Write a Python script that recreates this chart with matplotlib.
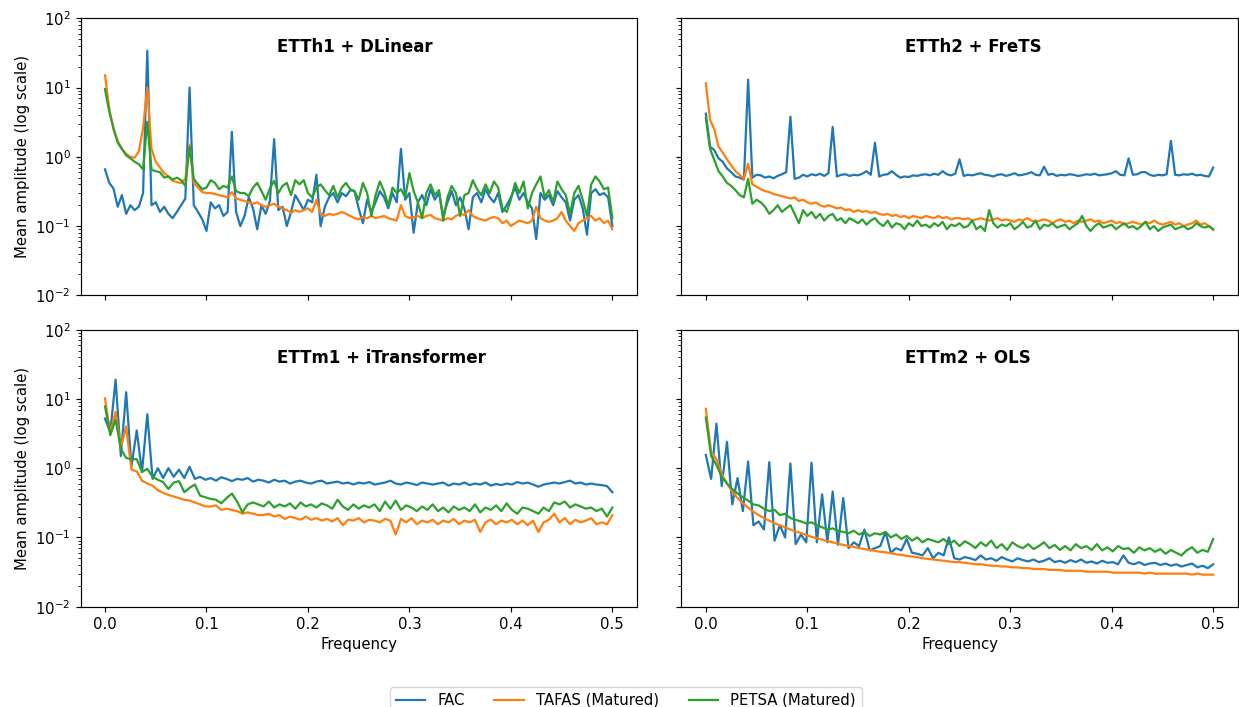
import numpy as np
import matplotlib
matplotlib.use("Agg")
import matplotlib.pyplot as plt

plt.rcParams["font.size"] = 10.7
plt.rcParams["lines.linewidth"] = 1.6
plt.rcParams["axes.linewidth"] = 0.85
plt.rcParams["xtick.major.width"] = 0.85
plt.rcParams["ytick.major.width"] = 0.85
plt.rcParams["xtick.major.size"] = 3.7
plt.rcParams["ytick.major.size"] = 3.7

# frequency bins (hourly sets: step 1/240, 15-min sets: step 1/192)
freq_h = np.arange(121) / 240
freq_m = np.arange(97) / 192

# ETTh1 + DLinear
etth1_fac = [
    0.66, 0.42, 0.35, 0.19, 0.28, 0.15, 0.20, 0.17, 0.19, 0.30,
    34.0, 0.20, 0.22, 0.16, 0.19, 0.15, 0.13, 0.16, 0.20, 0.25,
    10.0, 0.20, 0.16, 0.125, 0.085, 0.22, 0.18, 0.20, 0.14, 0.16,
    2.3, 0.16, 0.10, 0.14, 0.26, 0.18, 0.09, 0.20, 0.15, 0.23,
    1.8, 0.17, 0.19, 0.10, 0.16, 0.28, 0.22, 0.17, 0.24, 0.22,
    0.55, 0.10, 0.19, 0.26, 0.30, 0.22, 0.30, 0.27, 0.33, 0.32,
    0.18, 0.11, 0.24, 0.16, 0.22, 0.32, 0.26, 0.18, 0.30, 0.22,
    1.3, 0.24, 0.30, 0.08, 0.22, 0.28, 0.20, 0.34, 0.24, 0.30,
    0.14, 0.22, 0.32, 0.20, 0.26, 0.18, 0.09, 0.26, 0.30, 0.22,
    0.34, 0.26, 0.22, 0.30, 0.16, 0.20, 0.26, 0.36, 0.24, 0.30,
    0.22, 0.18, 0.065, 0.30, 0.24, 0.28, 0.20, 0.32, 0.26, 0.22,
    0.12, 0.24, 0.28, 0.18, 0.075, 0.30, 0.34, 0.28, 0.30, 0.26,
    0.10,
]
etth1_tafas = [
    15.0, 5.0, 2.5, 1.7, 1.3, 1.1, 1.0, 0.97, 1.2, 2.6,
    10.0, 1.3, 0.85, 0.70, 0.58, 0.52, 0.45, 0.43, 0.42, 0.48,
    1.5, 0.42, 0.36, 0.31, 0.30, 0.30, 0.29, 0.28, 0.27, 0.26,
    0.31, 0.25, 0.24, 0.23, 0.22, 0.21, 0.22, 0.20, 0.19, 0.20,
    0.21, 0.19, 0.18, 0.17, 0.155, 0.17, 0.16, 0.17, 0.18, 0.16,
    0.24, 0.15, 0.14, 0.15, 0.145, 0.15, 0.16, 0.15, 0.14, 0.13,
    0.125, 0.135, 0.13, 0.14, 0.13, 0.135, 0.14, 0.13, 0.125, 0.12,
    0.20, 0.14, 0.13, 0.135, 0.14, 0.13, 0.14, 0.145, 0.13, 0.125,
    0.12, 0.13, 0.125, 0.14, 0.15, 0.145, 0.17, 0.14, 0.13, 0.125,
    0.12, 0.13, 0.135, 0.13, 0.11, 0.12, 0.10, 0.11, 0.12, 0.115,
    0.11, 0.12, 0.19, 0.13, 0.12, 0.115, 0.12, 0.13, 0.16, 0.12,
    0.10, 0.085, 0.11, 0.12, 0.13, 0.14, 0.12, 0.13, 0.11, 0.12,
    0.09,
]
etth1_petsa = [
    9.5, 4.5, 2.6, 1.6, 1.3, 1.05, 0.95, 0.85, 0.78, 0.66,
    3.2, 0.65, 0.62, 0.60, 0.50, 0.52, 0.47, 0.50, 0.46, 0.38,
    1.4, 0.48, 0.40, 0.34, 0.36, 0.46, 0.42, 0.34, 0.38, 0.36,
    0.52, 0.32, 0.30, 0.30, 0.27, 0.36, 0.42, 0.32, 0.24, 0.35,
    0.45, 0.30, 0.38, 0.42, 0.28, 0.46, 0.40, 0.46, 0.30, 0.26,
    0.36, 0.40, 0.33, 0.28, 0.38, 0.26, 0.36, 0.42, 0.34, 0.32,
    0.24, 0.42, 0.30, 0.14, 0.28, 0.44, 0.32, 0.20, 0.36, 0.30,
    0.34, 0.26, 0.58, 0.32, 0.22, 0.13, 0.30, 0.40, 0.28, 0.33,
    0.12, 0.26, 0.38, 0.30, 0.14, 0.28, 0.30, 0.46, 0.34, 0.28,
    0.40, 0.30, 0.44, 0.36, 0.18, 0.16, 0.24, 0.42, 0.30, 0.44,
    0.18, 0.30, 0.40, 0.52, 0.26, 0.33, 0.22, 0.44, 0.34, 0.28,
    0.15, 0.30, 0.38, 0.24, 0.14, 0.40, 0.52, 0.44, 0.34, 0.36,
    0.13,
]

# ETTh2 + FreTS
etth2_fac = [
    4.2, 1.4, 1.25, 0.95, 0.85, 0.68, 0.60, 0.52, 0.50, 0.47,
    13.0, 0.50, 0.55, 0.54, 0.50, 0.52, 0.49, 0.53, 0.56, 0.60,
    3.8, 0.48, 0.50, 0.55, 0.52, 0.56, 0.54, 0.57, 0.53, 0.58,
    2.7, 0.52, 0.55, 0.56, 0.53, 0.55, 0.54, 0.57, 0.62, 0.55,
    1.6, 0.52, 0.55, 0.56, 0.62, 0.55, 0.50, 0.52, 0.51, 0.54,
    0.53, 0.55, 0.56, 0.54, 0.57, 0.55, 0.62, 0.56, 0.54, 0.57,
    0.92, 0.53, 0.55, 0.54, 0.56, 0.58, 0.55, 0.54, 0.52, 0.55,
    0.56, 0.53, 0.55, 0.58, 0.54, 0.55, 0.57, 0.60, 0.55, 0.54,
    0.72, 0.55, 0.57, 0.53, 0.55, 0.54, 0.56, 0.55, 0.53, 0.54,
    0.56, 0.55, 0.57, 0.54, 0.55, 0.56, 0.58, 0.62, 0.55, 0.54,
    0.95, 0.55, 0.56, 0.60, 0.60, 0.55, 0.53, 0.55, 0.54, 0.56,
    1.7, 0.55, 0.54, 0.56, 0.55, 0.57, 0.54, 0.55, 0.53, 0.52,
    0.70,
]
etth2_tafas = [
    11.5, 3.4, 2.5, 1.4, 1.15, 0.92, 0.75, 0.62, 0.55, 0.48,
    0.80, 0.40, 0.37, 0.34, 0.32, 0.31, 0.29, 0.28, 0.27, 0.26,
    0.25, 0.26, 0.23, 0.24, 0.22, 0.21, 0.22, 0.20, 0.19, 0.20,
    0.19, 0.18, 0.185, 0.17, 0.175, 0.16, 0.17, 0.16, 0.165, 0.155,
    0.16, 0.15, 0.145, 0.15, 0.14, 0.145, 0.135, 0.14, 0.13, 0.14,
    0.135, 0.13, 0.14, 0.135, 0.13, 0.14, 0.13, 0.135, 0.125, 0.13,
    0.13, 0.125, 0.13, 0.12, 0.125, 0.13, 0.125, 0.12, 0.125, 0.13,
    0.12, 0.125, 0.12, 0.115, 0.125, 0.12, 0.13, 0.12, 0.115, 0.12,
    0.125, 0.12, 0.11, 0.12, 0.125, 0.115, 0.12, 0.11, 0.12, 0.115,
    0.12, 0.125, 0.115, 0.12, 0.11, 0.115, 0.12, 0.11, 0.115, 0.105,
    0.11, 0.115, 0.11, 0.105, 0.115, 0.11, 0.12, 0.11, 0.105, 0.11,
    0.115, 0.105, 0.11, 0.10, 0.105, 0.11, 0.12, 0.105, 0.11, 0.10,
    0.088,
]
etth2_petsa = [
    3.6, 1.3, 0.90, 0.62, 0.52, 0.42, 0.38, 0.33, 0.28, 0.26,
    0.48, 0.21, 0.24, 0.22, 0.19, 0.15, 0.17, 0.20, 0.16, 0.18,
    0.20, 0.15, 0.11, 0.17, 0.14, 0.16, 0.13, 0.15, 0.12, 0.14,
    0.15, 0.12, 0.13, 0.11, 0.13, 0.12, 0.11, 0.125, 0.105, 0.12,
    0.13, 0.11, 0.10, 0.12, 0.095, 0.11, 0.105, 0.09, 0.11, 0.10,
    0.12, 0.10, 0.105, 0.095, 0.11, 0.10, 0.115, 0.09, 0.105, 0.10,
    0.11, 0.095, 0.10, 0.12, 0.09, 0.10, 0.085, 0.17, 0.11, 0.095,
    0.105, 0.10, 0.11, 0.09, 0.10, 0.115, 0.095, 0.10, 0.12, 0.09,
    0.105, 0.10, 0.11, 0.095, 0.10, 0.105, 0.09, 0.10, 0.11, 0.14,
    0.10, 0.085, 0.10, 0.11, 0.095, 0.10, 0.105, 0.09, 0.10, 0.11,
    0.095, 0.10, 0.09, 0.10, 0.115, 0.09, 0.10, 0.085, 0.095, 0.10,
    0.105, 0.09, 0.095, 0.10, 0.09, 0.095, 0.11, 0.10, 0.095, 0.10,
    0.09,
]

# ETTm1 + iTransformer
ettm1_fac = [
    5.2, 3.3, 19.0, 1.5, 12.5, 1.05, 3.5, 0.88, 6.0, 0.70,
    1.0, 0.72, 1.0, 0.75, 0.95, 0.72, 1.05, 0.70, 0.75, 0.68,
    0.72, 0.66, 0.74, 0.70, 0.65, 0.70, 0.68, 0.72, 0.64, 0.68,
    0.66, 0.62, 0.68, 0.64, 0.66, 0.60, 0.64, 0.66, 0.62, 0.60,
    0.64, 0.66, 0.60, 0.62, 0.64, 0.60, 0.62, 0.58, 0.62, 0.60,
    0.63, 0.58, 0.60, 0.62, 0.66, 0.60, 0.58, 0.62, 0.60, 0.57,
    0.62, 0.60, 0.58, 0.60, 0.62, 0.56, 0.60, 0.58, 0.62, 0.57,
    0.60, 0.58, 0.62, 0.56, 0.59, 0.57, 0.60, 0.58, 0.63, 0.60,
    0.62, 0.58, 0.54, 0.58, 0.60, 0.62, 0.60, 0.63, 0.66, 0.60,
    0.62, 0.58, 0.60, 0.58, 0.57, 0.55, 0.45,
]
ettm1_tafas = [
    10.2, 3.2, 6.5, 2.0, 4.0, 0.95, 0.90, 0.66, 0.60, 0.56,
    0.48, 0.44, 0.41, 0.39, 0.37, 0.35, 0.34, 0.32, 0.30, 0.28,
    0.28, 0.29, 0.25, 0.26, 0.25, 0.24, 0.22, 0.23, 0.22, 0.21,
    0.21, 0.22, 0.20, 0.21, 0.185, 0.20, 0.19, 0.18, 0.20, 0.18,
    0.19, 0.175, 0.185, 0.17, 0.19, 0.15, 0.18, 0.175, 0.19, 0.165,
    0.18, 0.175, 0.165, 0.185, 0.175, 0.11, 0.185, 0.165, 0.19, 0.155,
    0.175, 0.165, 0.18, 0.155, 0.175, 0.165, 0.185, 0.155, 0.175, 0.165,
    0.18, 0.12, 0.165, 0.18, 0.155, 0.175, 0.165, 0.18, 0.155, 0.175,
    0.15, 0.175, 0.12, 0.165, 0.18, 0.22, 0.165, 0.19, 0.155, 0.18,
    0.165, 0.175, 0.19, 0.155, 0.165, 0.155, 0.21,
]
ettm1_petsa = [
    7.8, 3.0, 5.0, 1.9, 1.4, 1.35, 1.35, 0.88, 0.98, 0.75,
    0.68, 0.63, 0.50, 0.62, 0.65, 0.45, 0.52, 0.58, 0.40, 0.38,
    0.36, 0.35, 0.31, 0.37, 0.43, 0.33, 0.23, 0.30, 0.32, 0.30,
    0.28, 0.33, 0.27, 0.30, 0.28, 0.31, 0.26, 0.32, 0.28, 0.30,
    0.27, 0.31, 0.29, 0.26, 0.35, 0.28, 0.25, 0.30, 0.26, 0.29,
    0.27, 0.30, 0.24, 0.33, 0.26, 0.34, 0.25, 0.29, 0.27, 0.24,
    0.28, 0.25, 0.30, 0.24, 0.27, 0.23, 0.28, 0.25, 0.27, 0.24,
    0.30, 0.23, 0.27, 0.25, 0.29, 0.24, 0.31, 0.25, 0.22, 0.27,
    0.26, 0.24, 0.22, 0.27, 0.24, 0.32, 0.30, 0.33, 0.27, 0.30,
    0.28, 0.26, 0.27, 0.24, 0.26, 0.20, 0.27,
]

# ETTm2 + OLS
ettm2_fac = [
    1.55, 0.70, 4.4, 0.55, 2.4, 0.30, 0.72, 0.24, 1.25, 0.15,
    0.17, 0.13, 1.22, 0.09, 0.15, 0.10, 1.17, 0.08, 0.11, 0.085,
    1.2, 0.085, 0.42, 0.085, 0.46, 0.078, 0.37, 0.07, 0.085, 0.075,
    0.13, 0.065, 0.07, 0.075, 0.12, 0.06, 0.07, 0.065, 0.095, 0.06,
    0.058, 0.055, 0.07, 0.05, 0.06, 0.055, 0.10, 0.05, 0.048, 0.052,
    0.05, 0.047, 0.055, 0.048, 0.05, 0.046, 0.052, 0.048, 0.045, 0.05,
    0.047, 0.045, 0.048, 0.044, 0.046, 0.05, 0.044, 0.046, 0.043, 0.047,
    0.044, 0.048, 0.043, 0.045, 0.042, 0.046, 0.043, 0.044, 0.041, 0.055,
    0.043, 0.041, 0.044, 0.040, 0.042, 0.043, 0.040, 0.042, 0.039, 0.041,
    0.038, 0.040, 0.042, 0.037, 0.039, 0.036, 0.041,
]
ettm2_tafas = [
    7.2, 1.7, 1.35, 0.82, 0.60, 0.46, 0.37, 0.31, 0.27, 0.235,
    0.21, 0.19, 0.175, 0.16, 0.15, 0.14, 0.13, 0.122, 0.116, 0.108,
    0.102, 0.097, 0.093, 0.088, 0.085, 0.081, 0.078, 0.075, 0.073, 0.070,
    0.068, 0.066, 0.064, 0.062, 0.061, 0.059, 0.057, 0.056, 0.054, 0.053,
    0.052, 0.050, 0.049, 0.048, 0.047, 0.046, 0.045, 0.044, 0.044, 0.043,
    0.042, 0.041, 0.041, 0.040, 0.039, 0.039, 0.038, 0.038, 0.037, 0.037,
    0.036, 0.036, 0.035, 0.035, 0.035, 0.034, 0.034, 0.034, 0.033, 0.033,
    0.033, 0.033, 0.032, 0.032, 0.032, 0.032, 0.032, 0.031, 0.031, 0.031,
    0.031, 0.031, 0.031, 0.030, 0.031, 0.030, 0.030, 0.030, 0.030, 0.030,
    0.030, 0.030, 0.029, 0.030, 0.029, 0.029, 0.029,
]
ettm2_petsa = [
    5.4, 1.5, 1.12, 0.75, 0.60, 0.50, 0.43, 0.38, 0.34, 0.30,
    0.29, 0.26, 0.24, 0.25, 0.21, 0.22, 0.19, 0.18, 0.17, 0.16,
    0.165, 0.15, 0.14, 0.13, 0.135, 0.125, 0.12, 0.115, 0.125, 0.11,
    0.12, 0.105, 0.115, 0.11, 0.12, 0.10, 0.11, 0.095, 0.105, 0.09,
    0.10, 0.085, 0.095, 0.09, 0.085, 0.095, 0.08, 0.09, 0.075, 0.088,
    0.08, 0.07, 0.085, 0.075, 0.09, 0.07, 0.08, 0.066, 0.085, 0.075,
    0.07, 0.08, 0.068, 0.075, 0.085, 0.07, 0.078, 0.066, 0.075, 0.065,
    0.08, 0.07, 0.075, 0.066, 0.08, 0.065, 0.072, 0.063, 0.075, 0.068,
    0.07, 0.06, 0.072, 0.065, 0.07, 0.062, 0.068, 0.058, 0.066, 0.06,
    0.055, 0.065, 0.072, 0.06, 0.066, 0.062, 0.095,
]

titles = ["ETTh1 + DLinear", "ETTh2 + FreTS", "ETTm1 + iTransformer", "ETTm2 + OLS"]
title_x = [0.353, 0.402, 0.353, 0.402]
panels = [
    (freq_h, etth1_fac, etth1_tafas, etth1_petsa),
    (freq_h, etth2_fac, etth2_tafas, etth2_petsa),
    (freq_m, ettm1_fac, ettm1_tafas, ettm1_petsa),
    (freq_m, ettm2_fac, ettm2_tafas, ettm2_petsa),
]

fig, axes = plt.subplots(2, 2, figsize=(12.39, 7.07), dpi=100, sharex=True, sharey=True)
fig.subplots_adjust(left=0.0651, right=0.9993, top=0.9741, bottom=0.1419,
                    wspace=0.0794, hspace=0.124)

for ax, title, tx, (f, fac, tafas, petsa) in zip(axes.flat, titles, title_x, panels):
    ax.plot(f, fac, color="tab:blue", label="FAC")
    ax.plot(f, tafas, color="tab:orange", label="TAFAS (Matured)")
    ax.plot(f, petsa, color="tab:green", label="PETSA (Matured)")
    ax.set_yscale("log")
    ax.text(tx, 0.896, title, transform=ax.transAxes, ha="left", va="center",
            fontsize=12, fontweight="bold")

axes[0, 0].set_ylim(1e-2, 1e2)
axes[0, 0].set_xlim(-0.024, 0.5246)
for ax in axes[:, 0]:
    ax.set_ylabel("Mean amplitude (log scale)")
for ax in axes[1, :]:
    ax.set_xlabel("Frequency")

handles, labels = axes[0, 0].get_legend_handles_labels()
fig.legend(handles, labels, loc="upper center", ncol=3, bbox_to_anchor=(0.505, 0.039))

fig.savefig("out.png", dpi=100)
